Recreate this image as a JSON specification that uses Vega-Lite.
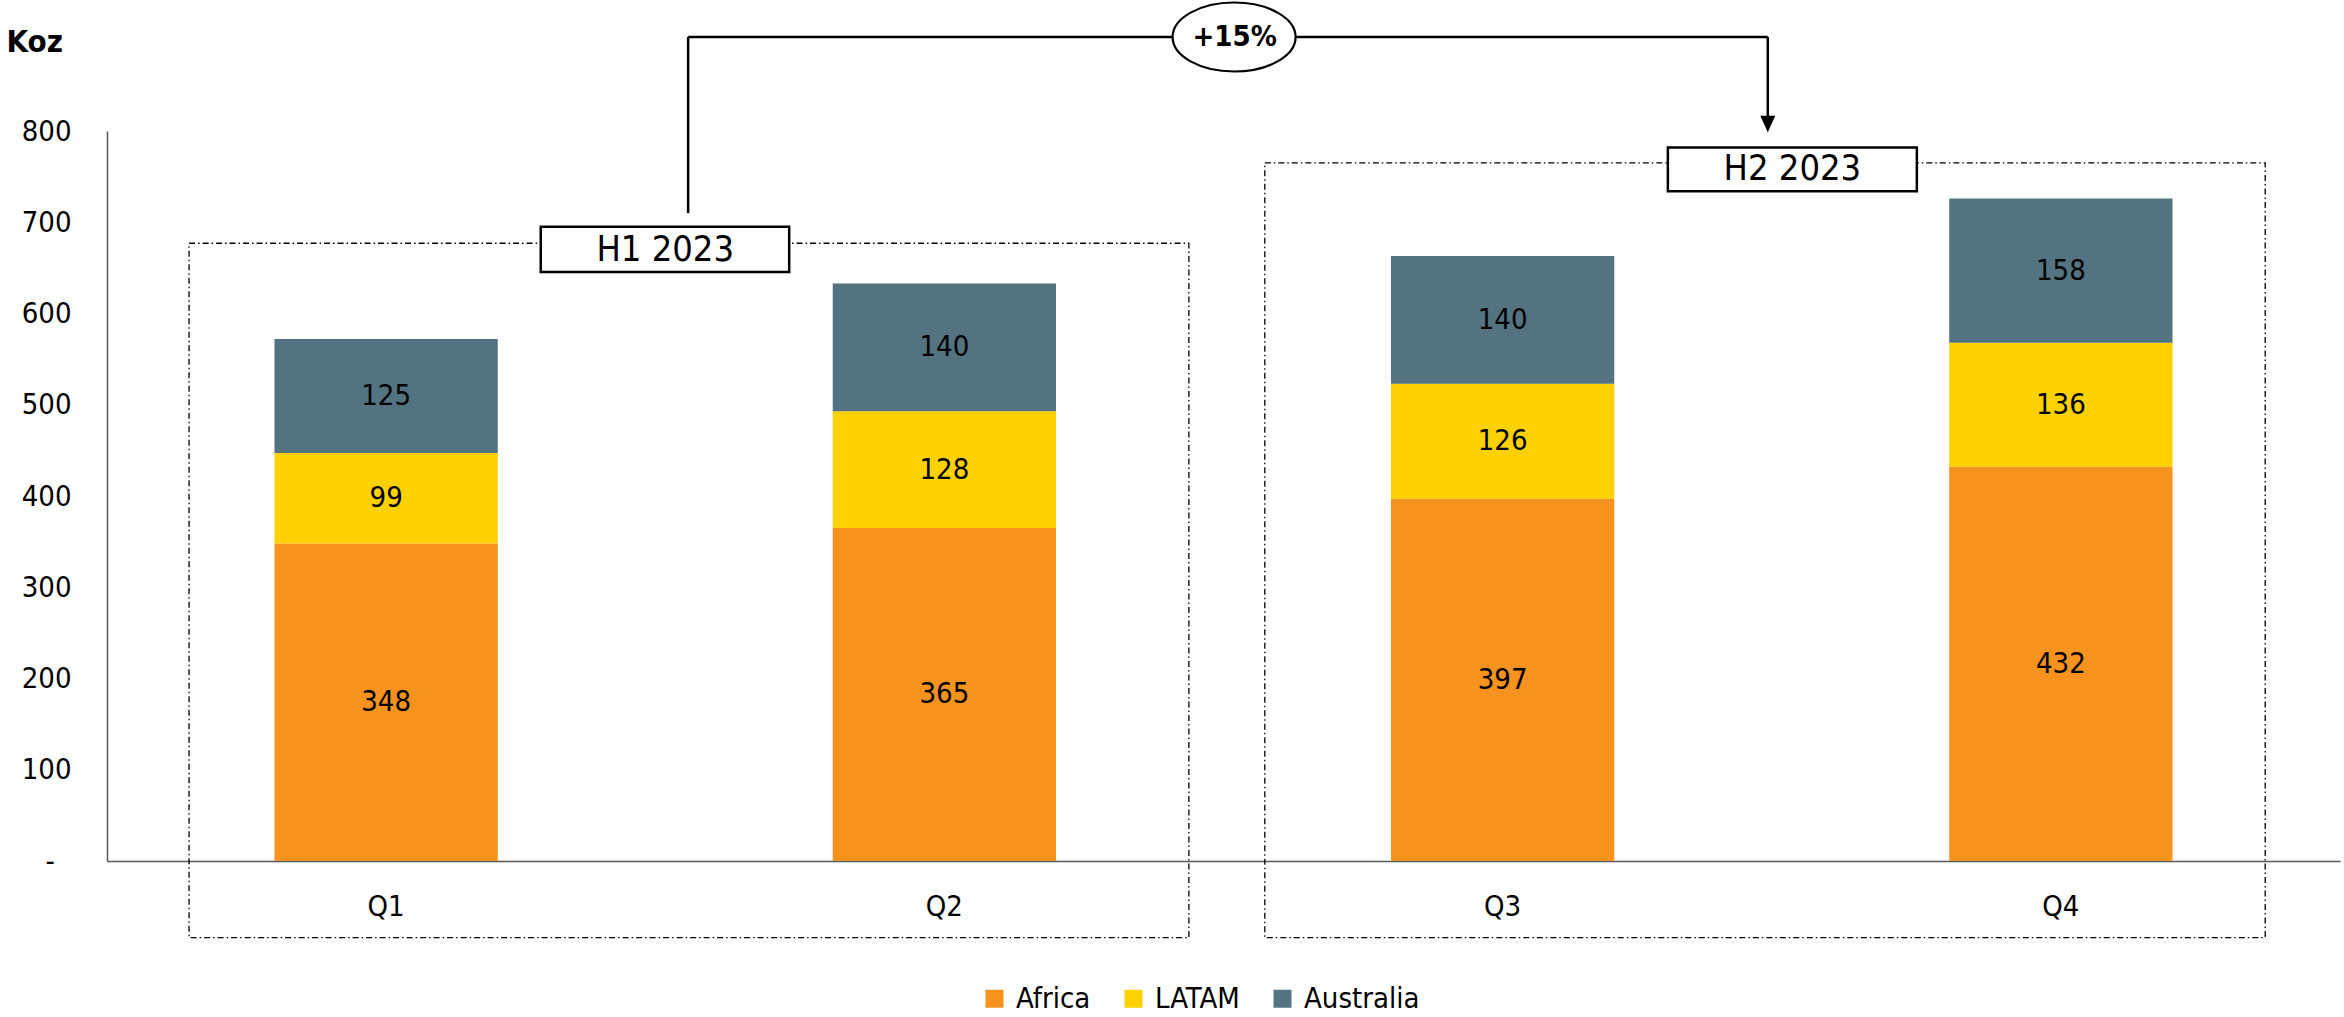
{
  "$schema": "https://vega.github.io/schema/vega-lite/v6.json",
  "width": 2233,
  "height": 730,
  "autosize": {"type": "none"},
  "padding": {"left": 107, "top": 131, "right": 4, "bottom": 156},
  "background": "white",
  "config": {
    "font": "Liberation Sans Narrow, Arial Narrow, DejaVu Sans Condensed, sans-serif",
    "view": {"stroke": null}
  },
  "layer": [
    {
      "data": {
        "values": [
          {"Quarter": "Q1", "Region": "Africa", "Value": 348},
          {"Quarter": "Q1", "Region": "LATAM", "Value": 99},
          {"Quarter": "Q1", "Region": "Australia", "Value": 125},
          {"Quarter": "Q2", "Region": "Africa", "Value": 365},
          {"Quarter": "Q2", "Region": "LATAM", "Value": 128},
          {"Quarter": "Q2", "Region": "Australia", "Value": 140},
          {"Quarter": "Q3", "Region": "Africa", "Value": 397},
          {"Quarter": "Q3", "Region": "LATAM", "Value": 126},
          {"Quarter": "Q3", "Region": "Australia", "Value": 140},
          {"Quarter": "Q4", "Region": "Africa", "Value": 432},
          {"Quarter": "Q4", "Region": "LATAM", "Value": 136},
          {"Quarter": "Q4", "Region": "Australia", "Value": 158}
        ]
      },
      "transform": [
        {"calculate": "indexof(['Africa','LATAM','Australia'], datum.Region)", "as": "ri"},
        {"stack": "Value", "groupby": ["Quarter"], "sort": [{"field": "ri", "order": "ascending"}], "as": ["v0", "v1"]},
        {"calculate": "(datum.v0 + datum.v1) / 2", "as": "mid"}
      ],
      "encoding": {
        "x": {
          "field": "Quarter",
          "type": "nominal",
          "sort": ["Q1", "Q2", "Q3", "Q4"],
          "scale": {"paddingInner": 0.6, "paddingOuter": 0.3},
          "axis": {
            "title": null,
            "labelAngle": 0,
            "labelFontSize": 29,
            "labelColor": "black",
            "labelPadding": 31,
            "ticks": false,
            "tickSize": 0,
            "domainColor": "#595959",
            "domainWidth": 1.5
          }
        }
      },
      "layer": [
        {
          "mark": {"type": "bar", "opacity": 1},
          "encoding": {
            "y": {
              "field": "v0",
              "type": "quantitative",
              "scale": {"domain": [0, 800], "nice": false},
              "axis": {
                "title": "Koz",
                "titleAngle": 0,
                "titleAlign": "left",
                "titleBaseline": "top",
                "titleX": -101,
                "titleY": -104,
                "titleFontSize": 31,
                "titleFontWeight": "bold",
                "titleColor": "black",
                "values": [0, 100, 200, 300, 400, 500, 600, 700, 800],
                "labelExpr": "datum.value == 0 ? '-\u00a0\u00a0\u200b' : datum.label",
                "labelFontSize": 29,
                "labelColor": "black",
                "labelPadding": 36,
                "ticks": false,
                "tickSize": 0,
                "grid": false,
                "domainColor": "#595959",
                "domainWidth": 1.5
              }
            },
            "y2": {"field": "v1"},
            "color": {
              "field": "Region",
              "type": "nominal",
              "scale": {"domain": ["Africa", "LATAM", "Australia"], "range": ["#F6931E", "#FFD100", "#52737F"]},
              "legend": {
                "title": null,
                "orient": "none",
                "direction": "horizontal",
                "legendX": 873,
                "legendY": 853,
                "symbolType": "square",
                "symbolSize": 324,
                "symbolOpacity": 1,
                "symbolStrokeWidth": 0,
                "labelFontSize": 29,
                "labelColor": "black",
                "labelOffset": 7,
                "columnPadding": 28
              }
            }
          }
        },
        {
          "mark": {"type": "text", "fontSize": 29, "color": "black", "baseline": "middle", "align": "center"},
          "encoding": {
            "y": {"field": "mid", "type": "quantitative", "scale": {"domain": [0, 800], "nice": false}},
            "text": {"field": "Value", "type": "quantitative"}
          }
        }
      ]
    },
    {
      "data": {"values": [{}]},
      "layer": [
        {
          "mark": {"type": "rect", "fillOpacity": 0, "stroke": "black", "strokeWidth": 1.3, "strokeDash": [6, 3, 1.5, 3]},
          "encoding": {
            "x": {"datum": 0.147, "type": "quantitative", "scale": {"domain": [0, 4], "nice": false, "zero": false}, "axis": null},
            "x2": {"datum": 1.938},
            "y": {"datum": -84, "type": "quantitative", "scale": {"domain": [0, 800], "nice": false}, "axis": null},
            "y2": {"datum": 677}
          }
        },
        {
          "mark": {"type": "rect", "fillOpacity": 0, "stroke": "black", "strokeWidth": 1.3, "strokeDash": [6, 3, 1.5, 3]},
          "encoding": {
            "x": {"datum": 2.074, "type": "quantitative", "scale": {"domain": [0, 4], "nice": false, "zero": false}, "axis": null},
            "x2": {"datum": 3.866},
            "y": {"datum": -84, "type": "quantitative", "scale": {"domain": [0, 800], "nice": false}, "axis": null},
            "y2": {"datum": 765}
          }
        },
        {
          "mark": {"type": "rect", "fill": "white", "stroke": "black", "strokeWidth": 2.5},
          "encoding": {
            "x": {"datum": 0.777, "type": "quantitative", "scale": {"domain": [0, 4], "nice": false, "zero": false}, "axis": null},
            "x2": {"datum": 1.222},
            "y": {"datum": 645.5, "type": "quantitative", "scale": {"domain": [0, 800], "nice": false}, "axis": null},
            "y2": {"datum": 695}
          }
        },
        {
          "mark": {"type": "rect", "fill": "white", "stroke": "black", "strokeWidth": 2.5},
          "encoding": {
            "x": {"datum": 2.796, "type": "quantitative", "scale": {"domain": [0, 4], "nice": false, "zero": false}, "axis": null},
            "x2": {"datum": 3.242},
            "y": {"datum": 734, "type": "quantitative", "scale": {"domain": [0, 800], "nice": false}, "axis": null},
            "y2": {"datum": 782}
          }
        },
        {
          "mark": {"type": "text", "fontSize": 36, "color": "black", "align": "center", "baseline": "middle", "text": "H1 2023"},
          "encoding": {
            "x": {"datum": 1.0, "type": "quantitative", "scale": {"domain": [0, 4], "nice": false, "zero": false}, "axis": null},
            "y": {"datum": 670, "type": "quantitative", "scale": {"domain": [0, 800], "nice": false}, "axis": null}
          }
        },
        {
          "mark": {"type": "text", "fontSize": 36, "color": "black", "align": "center", "baseline": "middle", "text": "H2 2023"},
          "encoding": {
            "x": {"datum": 3.019, "type": "quantitative", "scale": {"domain": [0, 4], "nice": false, "zero": false}, "axis": null},
            "y": {"datum": 758, "type": "quantitative", "scale": {"domain": [0, 800], "nice": false}, "axis": null}
          }
        },
        {
          "mark": {"type": "rule", "color": "black", "strokeWidth": 2.5},
          "encoding": {
            "x": {"datum": 1.041, "type": "quantitative", "scale": {"domain": [0, 4], "nice": false, "zero": false}, "axis": null},
            "y": {"datum": 710, "type": "quantitative", "scale": {"domain": [0, 800], "nice": false}, "axis": null},
            "y2": {"datum": 903}
          }
        },
        {
          "mark": {"type": "rule", "color": "black", "strokeWidth": 2.5},
          "encoding": {
            "x": {"datum": 1.041, "type": "quantitative", "scale": {"domain": [0, 4], "nice": false, "zero": false}, "axis": null},
            "x2": {"datum": 2.975},
            "y": {"datum": 903, "type": "quantitative", "scale": {"domain": [0, 800], "nice": false}, "axis": null}
          }
        },
        {
          "mark": {"type": "rule", "color": "black", "strokeWidth": 2.5},
          "encoding": {
            "x": {"datum": 2.975, "type": "quantitative", "scale": {"domain": [0, 4], "nice": false, "zero": false}, "axis": null},
            "y": {"datum": 903, "type": "quantitative", "scale": {"domain": [0, 800], "nice": false}, "axis": null},
            "y2": {"datum": 812}
          }
        },
        {
          "mark": {"type": "point", "shape": "M -1 -1.1 L 1 -1.1 L 0 1.1 Z", "size": 225, "filled": true, "fill": "black", "opacity": 1, "strokeWidth": 0},
          "encoding": {
            "x": {"datum": 2.975, "type": "quantitative", "scale": {"domain": [0, 4], "nice": false, "zero": false}, "axis": null},
            "y": {"datum": 807.7, "type": "quantitative", "scale": {"domain": [0, 800], "nice": false}, "axis": null}
          }
        },
        {
          "mark": {"type": "point", "shape": "M -1 0 A 1 0.561 0 1 1 1 0 A 1 0.561 0 1 1 -1 0 Z", "size": 15129, "filled": false, "fill": "white", "fillOpacity": 1, "stroke": "black", "strokeWidth": 2.2, "opacity": 1},
          "encoding": {
            "x": {"datum": 2.019, "type": "quantitative", "scale": {"domain": [0, 4], "nice": false, "zero": false}, "axis": null},
            "y": {"datum": 903, "type": "quantitative", "scale": {"domain": [0, 800], "nice": false}, "axis": null}
          }
        },
        {
          "mark": {"type": "text", "fontSize": 29, "fontWeight": "bold", "color": "black", "align": "center", "baseline": "middle", "text": "+15%"},
          "encoding": {
            "x": {"datum": 2.02, "type": "quantitative", "scale": {"domain": [0, 4], "nice": false, "zero": false}, "axis": null},
            "y": {"datum": 903, "type": "quantitative", "scale": {"domain": [0, 800], "nice": false}, "axis": null}
          }
        }
      ]
    }
  ],
  "resolve": {"scale": {"x": "independent", "y": "independent"}, "axis": {"x": "independent", "y": "independent"}}
}
